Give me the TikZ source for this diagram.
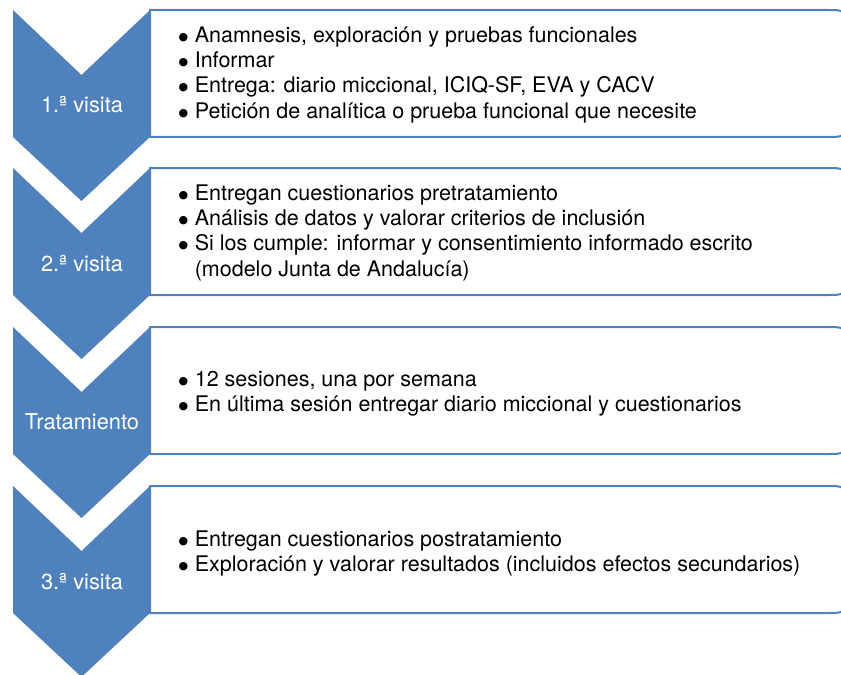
\documentclass[tikz,border=0pt]{standalone}
\usepackage{fontspec}
\setmainfont{TeX Gyre Heros}
\newfontfamily\dejavu{DejaVu Sans}
\definecolor{cblue}{RGB}{79,129,189}
\newcommand\bul{\raisebox{2bp}{\dejavu\fontsize{11bp}{11bp}\selectfont ●}}
\begin{document}
\begin{tikzpicture}[x=1bp,y=-1bp,
  chev/.style={fill=cblue, draw=none},
  boxline/.style={draw=cblue, line width=2bp, fill=white},
  lbl/.style={text=white, font=\fontsize{21.8bp}{25bp}\selectfont, inner sep=0},
  body/.style={anchor=west, inner sep=0, font=\fontsize{21.5bp}{25.3bp}\selectfont}]
\useasboundingbox (0,0) rectangle (841,675);
\clip (0,0) rectangle (841,675);
\foreach \t in {10,168,327,486}{
  \draw[boxline] (150,\t) -- (827,\t) .. controls (845,\t) .. (845,\t+18)
    -- (845,\t+109) .. controls (845,\t+127) .. (827,\t+127) -- (150,\t+127) -- cycle;
  \fill[chev] (13,\t) -- (81.5,\t+65) -- (150,\t) -- (150,\t+127)
    -- (81.5,\t+191) -- (13,\t+127) -- cycle;
}
\node[lbl] (l1) at (82,105) {1.ª visita};
\node[lbl] (l2) at (82,264) {2.ª visita};
\node[lbl] (l3) at (82,422) {Tratamiento};
\node[lbl] (l4) at (82,582) {3.ª visita};
\node[body] (b1) at (178.5,75) {\begin{tabular}{@{}l@{\hspace{6.5bp}}l@{}}
\bul & Anamnesis, exploración y pruebas funcionales\\
\bul & Informar\\
\bul & Entrega: diario miccional, ICIQ-SF, EVA y CACV\\
\bul & Petición de analítica o prueba funcional que necesite
\end{tabular}};
\node[body] (b2) at (178.5,233) {\begin{tabular}{@{}l@{\hspace{6.5bp}}l@{}}
\bul & Entregan cuestionarios pretratamiento\\
\bul & Análisis de datos y valorar criterios de inclusión\\
\bul & Si los cumple: informar y consentimiento informado escrito\\
 & (modelo Junta de Andalucía)
\end{tabular}};
\node[body] (b3) at (178.5,394) {\begin{tabular}{@{}l@{\hspace{6.5bp}}l@{}}
\bul & 12 sesiones, una por semana\\
\bul & En última sesión entregar diario miccional y cuestionarios
\end{tabular}};
\node[body] (b4) at (178.5,554) {\begin{tabular}{@{}l@{\hspace{6.5bp}}l@{}}
\bul & Entregan cuestionarios postratamiento\\
\bul & Exploración y valorar resultados (incluidos efectos secundarios)
\end{tabular}};
\end{tikzpicture}
\end{document}
